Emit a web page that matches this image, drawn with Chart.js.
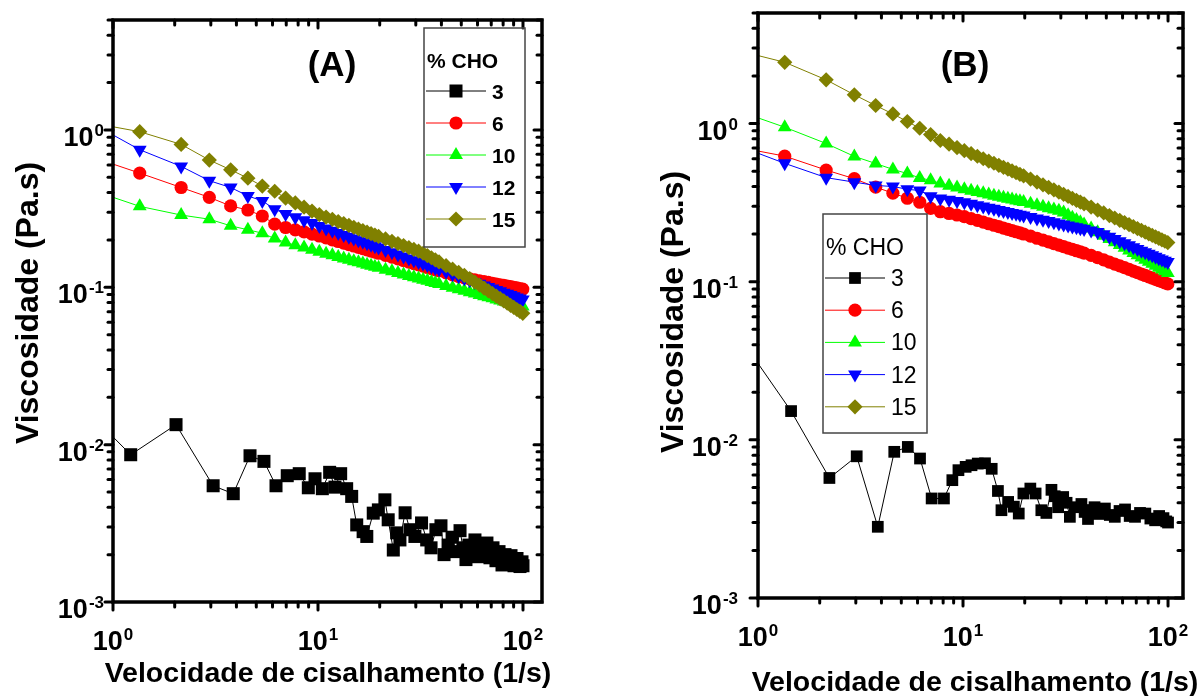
<!DOCTYPE html>
<html lang="pt">
<head>
<meta charset="UTF-8">
<title>Viscosidade x Velocidade de cisalhamento</title>
<script src="https://cdn.jsdelivr.net/npm/chart.js"></script>
<style>
  html, body { margin: 0; padding: 0; background: #fff; }
  #wrap { position: relative; width: 1197px; height: 696px; overflow: hidden; }
  #wrap canvas { position: absolute; top: 0; }
</style>
</head>
<body>
<div id="wrap">
  <canvas id="chartA" width="600" height="696" style="left:0"></canvas>
  <canvas id="chartB" width="597" height="696" style="left:600px"></canvas>
</div>
<script>
// % CHO series
const seriesNames = ['3', '6', '10', '12', '15'];
const seriesColors = ['#000000', '#ff0000', '#00ff00', '#0000ff', '#808000'];
const markerStyles = ['rect', 'circle', 'triangle', 'triangle', 'rectRot'];
const markerRotation = [0, 0, 0, 180, 0];

// tick label exponents (10^n)
const xTickExp = [0, 1, 2];
const yTickExp = [-3, -2, -1, 0];

// shear rate (1/s) shared by the 6, 10, 12 and 15 % series
const shearRate = [0.55, 1.35, 2.15, 2.95, 3.75, 4.55, 5.35, 6.15, 6.95, 7.75, 8.55, 9.35, 10.15,
  10.95, 11.75, 12.55, 13.35, 14.15, 14.95, 15.75, 16.55, 17.35, 18.15, 18.95, 19.75,
  21.35, 22.95, 24.55, 26.15, 27.75, 29.35, 30.95, 32.55, 34.15, 35.75, 37.35, 38.95,
  42.15, 45.35, 48.55, 51.75, 54.95, 58.15, 61.35, 64.55, 67.75, 70.95, 74.15, 77.35,
  80.55, 83.75, 86.95, 90.15, 93.35, 96.55, 99.75];

// ---- panel A ----
const shear3A = [0.42, 1.22, 2.03, 3.08, 3.86, 4.66, 5.45, 6.24, 7.08, 8.1, 8.97, 9.67, 10.5, 11.4,
  12.1, 12.9, 13.8, 14.6, 15.45, 16.6, 17.3, 18.6, 19.7, 21.2, 22.0, 23.3, 24.2, 25.1, 26.6, 28.1,
  29.7, 32.0, 33.9, 35.6, 37.6, 39.8, 41.2, 43.1, 45.1, 47.1, 49.3, 51.0, 52.7, 54.5, 56.4, 58.3,
  60.3, 62.4, 64.5, 66.7, 69.0, 71.4, 73.8, 76.4, 79.0, 81.7, 84.5, 87.4, 90.4, 93.5, 96.7, 98.9, 100.0];
const visc3A = [0.035, 0.00863, 0.0134, 0.00548, 0.00488, 0.0085, 0.00783, 0.00548, 0.00635, 0.00654,
  0.00532, 0.00607, 0.00525, 0.00667, 0.00537, 0.00654, 0.00525, 0.00469, 0.00309, 0.0028,
  0.00261, 0.00367, 0.00385, 0.00446, 0.00333, 0.00214, 0.00275, 0.00248, 0.00369, 0.00288,
  0.00261, 0.00318, 0.00248, 0.00221, 0.00288, 0.00305, 0.002, 0.0023, 0.00258, 0.00209,
  0.00284, 0.00221, 0.00186, 0.0023, 0.00206, 0.00248, 0.00194, 0.00227, 0.00203, 0.00237,
  0.00191, 0.00221, 0.00183, 0.00209, 0.00172, 0.002, 0.00178, 0.00197, 0.0017, 0.00189,
  0.00168, 0.0018, 0.0017];
const visc6A = [0.789, 0.532, 0.431, 0.373, 0.329, 0.310, 0.284, 0.252, 0.240, 0.232, 0.225, 0.218, 0.212,
  0.2060, 0.2005, 0.1956, 0.1910, 0.1869, 0.1830, 0.1794, 0.1761, 0.1729, 0.1700, 0.1672, 0.1646,
  0.1598, 0.1555, 0.1516, 0.1480, 0.1447, 0.1416, 0.1388, 0.1362, 0.1337, 0.1314, 0.1292, 0.1272,
  0.1234, 0.1200, 0.1170, 0.1148, 0.1131, 0.1115, 0.1100, 0.1087, 0.1074, 0.1061, 0.1050, 0.1038,
  0.1028, 0.1018, 0.1009, 0.1000, 0.0991, 0.0982, 0.0975];
const visc10A = [0.486, 0.327, 0.288, 0.271, 0.246, 0.232, 0.221, 0.204, 0.193, 0.185, 0.179, 0.173, 0.168,
  0.1636, 0.1596, 0.1560, 0.1526, 0.1496, 0.1467, 0.1441, 0.1416, 0.1393, 0.1371, 0.1350, 0.1331,
  0.1295, 0.1263, 0.1233, 0.1206, 0.1182, 0.1159, 0.1137, 0.1117, 0.1099, 0.1081, 0.1065, 0.1049,
  0.1021, 0.0995, 0.0971, 0.0950, 0.0930, 0.0912, 0.0895, 0.0879, 0.0865, 0.0851, 0.0838, 0.0825,
  0.0814, 0.0803, 0.0792, 0.0782, 0.0773, 0.0764, 0.0755];
const visc12A = [1.43, 0.749, 0.587, 0.476, 0.431, 0.381, 0.354, 0.314, 0.292, 0.279, 0.267, 0.256, 0.245,
  0.2364, 0.2287, 0.2218, 0.2154, 0.2096, 0.2042, 0.1993, 0.1947, 0.1904, 0.1864, 0.1827, 0.1792,
  0.1727, 0.1670, 0.1618, 0.1570, 0.1527, 0.1487, 0.1451, 0.1417, 0.1385, 0.1356, 0.1328, 0.1302,
  0.1255, 0.1212, 0.1174, 0.1140, 0.1108, 0.1079, 0.1052, 0.1027, 0.1004, 0.0982, 0.0962, 0.0943,
  0.0925, 0.0909, 0.0893, 0.0878, 0.0863, 0.0850, 0.0837];
const visc15A = [1.21, 0.975, 0.81, 0.644, 0.558, 0.494, 0.440, 0.408, 0.369, 0.344, 0.323, 0.305, 0.290,
  0.2796, 0.2703, 0.2619, 0.2543, 0.2473, 0.2408, 0.2348, 0.2293, 0.2242, 0.2194, 0.2149, 0.2107,
  0.2029, 0.1960, 0.1898, 0.1841, 0.1790, 0.1742, 0.1698, 0.1646, 0.1591, 0.1541, 0.1495, 0.1451,
  0.1373, 0.1305, 0.1244, 0.1190, 0.1135, 0.1081, 0.1033, 0.0989, 0.0950, 0.0913, 0.0879, 0.0848,
  0.0820, 0.0793, 0.0768, 0.0745, 0.0723, 0.0703, 0.0683];

// ---- panel B ----
const shear3B = [0.65, 1.45, 2.23, 3.03, 3.84, 4.62, 5.38, 6.17, 7.03, 8.07, 8.87, 9.5, 10.3, 11.0,
  11.8, 12.8, 13.8, 14.8, 15.4, 16.6, 17.7, 18.7, 19.7, 21.3, 22.6, 24.1, 25.5, 27.0, 28.0, 29.1,
  30.8, 32.0, 33.2, 35.1, 37.8, 39.2, 40.7, 42.0, 43.8, 46.0, 49.2, 52.0, 55.0, 58.0, 61.7, 65.0,
  69.0, 73.0, 77.5, 82.0, 86.5, 90.5, 95.0, 98.0, 100.0];
const visc3B = [0.068, 0.0152, 0.00574, 0.00787, 0.00282, 0.0084, 0.00902, 0.00762, 0.00426, 0.00426,
  0.00556, 0.00643, 0.00675, 0.00691, 0.00708, 0.00711, 0.00656, 0.00475, 0.00359, 0.00405,
  0.00378, 0.00342, 0.00458, 0.00492, 0.00458, 0.00359, 0.00345, 0.00483, 0.0044, 0.00375,
  0.00435, 0.004, 0.00326, 0.00375, 0.00393, 0.0035, 0.00316, 0.0036, 0.00375, 0.0034,
  0.00368, 0.00335, 0.00326, 0.00355, 0.00363, 0.0033, 0.00326, 0.00345, 0.00342, 0.00318,
  0.0031, 0.0033, 0.0032, 0.00305, 0.003];
const visc6B = [0.778, 0.622, 0.508, 0.448, 0.396, 0.363, 0.337, 0.318, 0.291, 0.277, 0.270, 0.264, 0.258,
  0.2507, 0.2440, 0.2380, 0.2325, 0.2274, 0.2227, 0.2183, 0.2143, 0.2105, 0.2069, 0.2035, 0.2003,
  0.1940, 0.1883, 0.1832, 0.1785, 0.1742, 0.1703, 0.1666, 0.1632, 0.1600, 0.1570, 0.1543, 0.1516,
  0.1468, 0.1419, 0.1373, 0.1331, 0.1293, 0.1258, 0.1226, 0.1196, 0.1168, 0.1142, 0.1118, 0.1095,
  0.1074, 0.1054, 0.1035, 0.1017, 0.1000, 0.0984, 0.0968];
const visc10B = [1.425, 0.948, 0.748, 0.620, 0.559, 0.513, 0.483, 0.453, 0.438, 0.418, 0.405, 0.394, 0.384,
  0.3759, 0.3686, 0.3618, 0.3557, 0.3499, 0.3445, 0.3395, 0.3349, 0.3305, 0.3263, 0.3224, 0.3187,
  0.3109, 0.3038, 0.2973, 0.2913, 0.2858, 0.2807, 0.2736, 0.2634, 0.2541, 0.2455, 0.2376, 0.2302,
  0.2170, 0.2054, 0.1952, 0.1861, 0.1779, 0.1705, 0.1638, 0.1576, 0.1520, 0.1468, 0.1421, 0.1376,
  0.1335, 0.1297, 0.1261, 0.1227, 0.1195, 0.1165, 0.1137];
const visc12B = [0.871, 0.560, 0.455, 0.426, 0.406, 0.400, 0.384, 0.377, 0.347, 0.336, 0.330, 0.324, 0.318,
  0.3111, 0.3048, 0.2990, 0.2937, 0.2888, 0.2842, 0.2800, 0.2760, 0.2722, 0.2687, 0.2653, 0.2622,
  0.2563, 0.2510, 0.2461, 0.2417, 0.2375, 0.2337, 0.2301, 0.2268, 0.2237, 0.2207, 0.2180, 0.2153,
  0.2105, 0.2060, 0.1993, 0.1923, 0.1859, 0.1801, 0.1748, 0.1699, 0.1654, 0.1611, 0.1572, 0.1535,
  0.1501, 0.1468, 0.1438, 0.1409, 0.1382, 0.1356, 0.1331];
const visc15B = [3.27, 2.44, 1.89, 1.52, 1.30, 1.15, 1.03, 0.934, 0.852, 0.781, 0.740, 0.7044, 0.6733,
  0.6457, 0.6212, 0.5991, 0.5791, 0.5608, 0.5442, 0.5287, 0.5145, 0.5013, 0.4891, 0.4777, 0.4669,
  0.4457, 0.4267, 0.4098, 0.3946, 0.3808, 0.3682, 0.3567, 0.3461, 0.3362, 0.3271, 0.3186, 0.3107,
  0.2963, 0.2836, 0.2723, 0.2620, 0.2527, 0.2443, 0.2366, 0.2294, 0.2229, 0.2168, 0.2112, 0.2059,
  0.2009, 0.1963, 0.1919, 0.1878, 0.1839, 0.1802, 0.1767];

const FONT = '"Liberation Sans", Arial, Helvetica, sans-serif';

function marker(ctx, style, rot, r, x, y) {
  ctx.beginPath();
  if (style === 'circle') {
    ctx.arc(x, y, r, 0, Math.PI * 2);
  } else if (style === 'rect') {
    const s = r * Math.SQRT1_2;
    ctx.rect(x - s, y - s, 2 * s, 2 * s);
  } else if (style === 'rectRot') {
    ctx.moveTo(x - r, y); ctx.lineTo(x, y - r); ctx.lineTo(x + r, y); ctx.lineTo(x, y + r);
    ctx.closePath();
  } else {
    const d = rot ? -1 : 1;
    ctx.moveTo(x, y - d * r);
    ctx.lineTo(x + r * 0.866, y + d * r / 2);
    ctx.lineTo(x - r * 0.866, y + d * r / 2);
    ctx.closePath();
  }
  ctx.fill();
}

// "10" with a raised exponent
function powLabel(ctx, exp, x, y, align) {
  const base = '10', sup = String(exp);
  ctx.font = 'bold 27px ' + FONT;
  const wb = ctx.measureText(base).width;
  ctx.font = 'bold 17px ' + FONT;
  const ws = ctx.measureText(sup).width;
  const x0 = align === 'right' ? x - wb - ws - 1 : x - (wb + ws + 1) / 2;
  ctx.font = 'bold 27px ' + FONT;
  ctx.fillText(base, x0, y);
  ctx.font = 'bold 17px ' + FONT;
  ctx.fillText(sup, x0 + wb + 1, y - 10);
}

const panelDeco = {
  id: 'panelDeco',
  afterDraw(chart, args, o) {
    const ctx = chart.ctx;
    const a = chart.chartArea;
    const xs = chart.scales.x, ys = chart.scales.y;
    ctx.save();
    ctx.strokeStyle = '#000';
    ctx.fillStyle = '#000';
    ctx.lineWidth = 3;
    ctx.lineCap = 'round';
    const seg = (x1, y1, x2, y2) => { ctx.beginPath(); ctx.moveTo(x1, y1); ctx.lineTo(x2, y2); ctx.stroke(); };

    // minor and major ticks: outward on bottom/left, inward on top/right
    for (let e = -3; e <= 2; e++) {
      for (let m = 1; m <= 9; m++) {
        const v = m * Math.pow(10, e);
        const len = m === 1 ? 8 : 5;
        if (v >= xs.min * 0.999 && v <= xs.max) {
          const px = xs.getPixelForValue(v);
          seg(px, a.bottom, px, a.bottom + len);
          seg(px, a.top, px, a.top + len);
        }
        if (v >= ys.min * 0.999 && v <= ys.max * 1.001) {
          const py = ys.getPixelForValue(v);
          seg(a.left - len, py, a.left, py);
          seg(a.right - len, py, a.right, py);
        }
      }
    }
    ctx.lineCap = 'butt';
    ctx.lineJoin = 'miter';
    ctx.lineWidth = 3.5;
    ctx.strokeRect(a.left, a.top, a.right - a.left, a.bottom - a.top);

    // tick labels
    ctx.textBaseline = 'alphabetic';
    ctx.textAlign = 'left';
    xTickExp.forEach(e => powLabel(ctx, e, xs.getPixelForValue(Math.pow(10, e)), o.xLabelY, 'center'));
    yTickExp.forEach(e => powLabel(ctx, e, a.left - o.yLabelGap, ys.getPixelForValue(Math.pow(10, e)) + 16, 'right'));

    // axis titles
    ctx.textAlign = 'center';
    ctx.font = 'bold 28.5px ' + FONT;
    ctx.fillText('Velocidade de cisalhamento (1/s)', o.xTitle[0], o.xTitle[1]);
    ctx.save();
    ctx.translate(o.yTitle[0], o.yTitle[1]);
    ctx.rotate(-Math.PI / 2);
    ctx.font = 'bold 32px ' + FONT;
    ctx.fillText('Viscosidade (Pa.s)', 0, 0);
    ctx.restore();

    // panel letter
    ctx.font = 'bold 35px ' + FONT;
    ctx.fillText(o.letter, o.letterPos[0], o.letterPos[1]);

    // legend
    const L = o.legend;
    ctx.strokeStyle = '#444';
    ctx.lineWidth = 1.5;
    ctx.strokeRect(L.x, L.y, L.w, L.h);
    ctx.textAlign = 'left';
    ctx.font = L.font;
    ctx.fillStyle = '#000';
    ctx.fillText('% CHO', L.x + 3, L.titleY);
    chart.data.datasets.forEach((ds, i) => {
      const y = L.rowY + i * L.rowGap;
      ctx.strokeStyle = ds.borderColor;
      ctx.lineWidth = 1;
      seg(L.x + 2, y, L.x + 62, y);
      ctx.fillStyle = ds.backgroundColor;
      marker(ctx, ds.pointStyle, ds.pointRotation, ds.pointRadius, L.x + 32, y);
      ctx.fillStyle = '#000';
      ctx.fillText(ds.label, L.x + 68, y + 8);
    });
    ctx.restore();
  }
};

function makeChart(id, xsList, ysList, radii, xMax, pad, deco) {
  const datasets = seriesNames.map((name, i) => ({
    label: name,
    data: xsList[i].map((x, j) => ({ x: x, y: ysList[i][j] })),
    showLine: true,
    borderColor: seriesColors[i],
    backgroundColor: seriesColors[i],
    borderWidth: 1,
    pointStyle: markerStyles[i],
    pointRotation: markerRotation[i],
    pointRadius: radii[i],
    pointHoverRadius: radii[i],
    pointBorderWidth: 0,
    tension: 0,
    order: 10 - i
  }));
  return new Chart(document.getElementById(id), {
    type: 'scatter',
    data: { datasets: datasets },
    options: {
      responsive: false,
      animation: false,
      events: [],
      layout: { padding: pad },
      plugins: {
        legend: { display: false },
        tooltip: { enabled: false },
        panelDeco: deco
      },
      scales: {
        x: { type: 'logarithmic', min: 1, max: xMax, display: false },
        y: { type: 'logarithmic', min: 0.001, max: 5, display: false }
      }
    },
    plugins: [panelDeco]
  });
}

makeChart('chartA',
  [shear3A, shearRate, shearRate, shearRate, shearRate],
  [visc3A, visc6A, visc10A, visc12A, visc15A],
  [9.2, 6.6, 8, 8, 7.6], 123.8,
  { left: 113, right: 58, top: 20, bottom: 94 },
  {
    xLabelY: 650, yLabelGap: 9,
    xTitle: [328, 682], yTitle: [38, 303],
    letter: '(A)', letterPos: [332, 76],
    legend: { x: 424, y: 28, w: 101, h: 219, titleY: 68, rowY: 91, rowGap: 32, font: 'bold 21px ' + FONT }
  });

makeChart('chartB',
  [shear3B, shearRate, shearRate, shearRate, shearRate],
  [visc3B, visc6B, visc10B, visc12B, visc15B],
  [8.3, 6.6, 8, 8, 7.6], 118.3,
  { left: 158, right: 14, top: 13, bottom: 98 },
  {
    xLabelY: 646, yLabelGap: 20,
    xTitle: [375, 691], yTitle: [83, 312],
    letter: '(B)', letterPos: [365, 76],
    legend: { x: 223, y: 214, w: 104, h: 219, titleY: 255, rowY: 278, rowGap: 32.2, font: '23px ' + FONT }
  });
</script>
</body>
</html>
